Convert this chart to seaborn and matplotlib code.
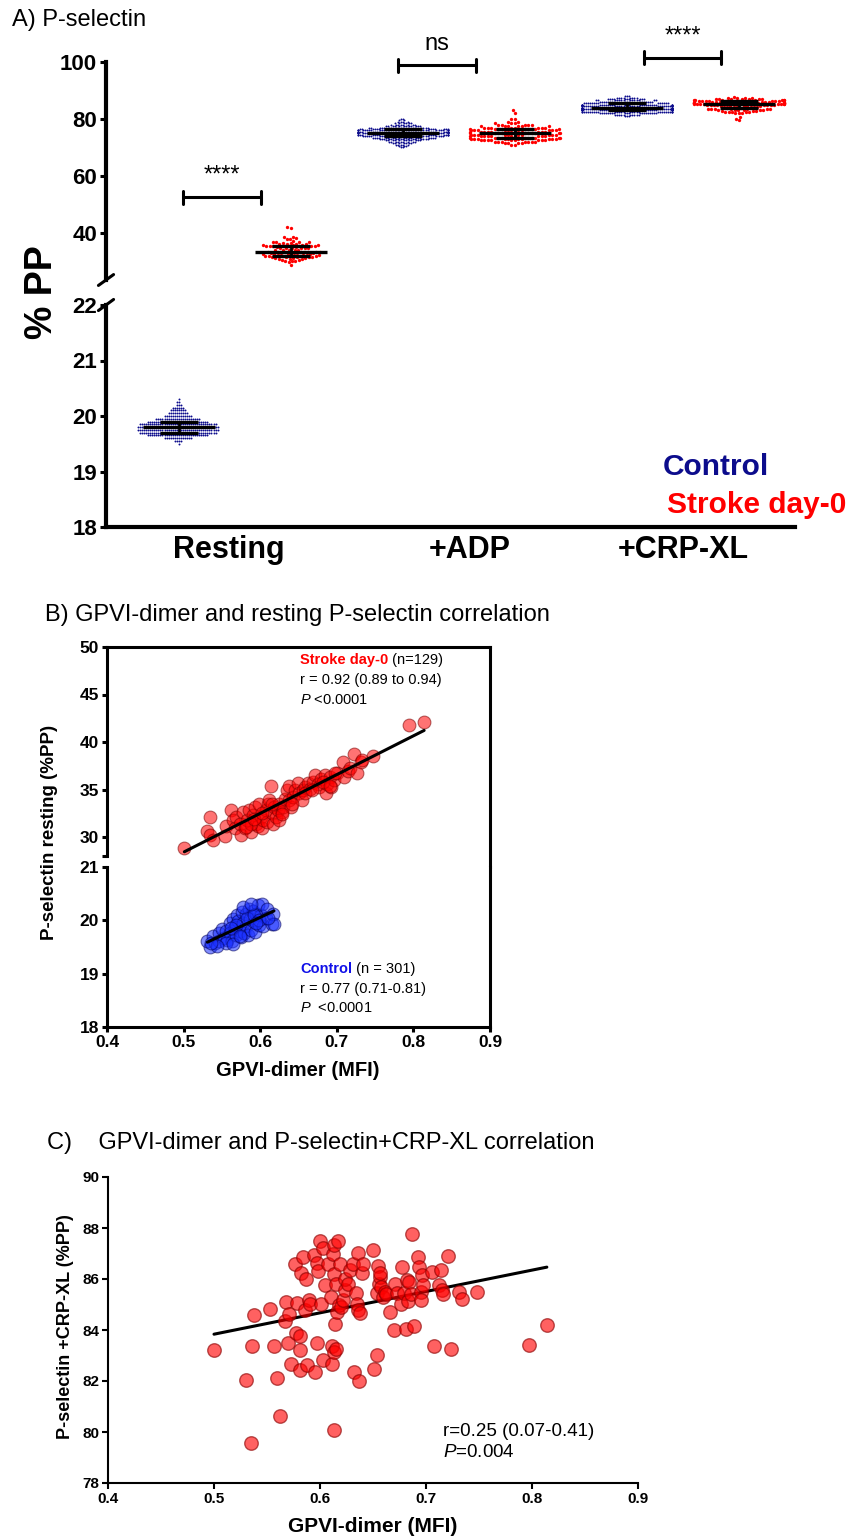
import numpy as np
import pandas as pd
import matplotlib
matplotlib.use("Agg")
import matplotlib.pyplot as plt
import seaborn as sns

W, H = 849, 1538
NAVY = "#0c0c8c"
RED = "#ff0000"

conditions = ["Resting", "+ADP", "+CRP-XL"]
groups = ["Control", "Stroke day-0"]

# ---- panel B: GPVI-dimer vs resting P-selectin ----
b_stroke_x = [0.501, 0.530, 0.535, 0.534, 0.539, 0.554, 0.555, 0.562, 0.564, 0.567,
              0.569, 0.573, 0.575, 0.577, 0.580, 0.583, 0.585, 0.588, 0.590, 0.593,
              0.595, 0.597, 0.598, 0.601, 0.602, 0.604, 0.607, 0.609, 0.610, 0.612,
              0.614, 0.615, 0.617, 0.618, 0.621, 0.623, 0.625, 0.628, 0.630, 0.632,
              0.635, 0.637, 0.638, 0.640, 0.643, 0.646, 0.649, 0.651, 0.654, 0.656,
              0.658, 0.662, 0.665, 0.669, 0.672, 0.675, 0.677, 0.679, 0.684, 0.686,
              0.687, 0.691, 0.693, 0.696, 0.700, 0.708, 0.710, 0.714, 0.717, 0.723,
              0.726, 0.731, 0.733, 0.747, 0.794, 0.814,
              0.588, 0.582, 0.592, 0.603, 0.616, 0.624, 0.629, 0.642, 0.658, 0.667,
              0.682, 0.698, 0.691]
b_stroke_y = [28.8, 30.6, 32.1, 30.2, 29.7, 30.1, 31.2, 32.8, 31.8, 31.0,
              32.1, 31.4, 30.2, 32.6, 31.0, 31.8, 32.8, 30.5, 32.3, 33.2,
              31.4, 31.2, 33.5, 32.1, 31.0, 31.8, 32.8, 31.6, 33.5, 33.9,
              35.4, 32.5, 31.4, 33.2, 32.1, 32.8, 33.5, 32.6, 33.2, 34.0,
              35.0, 33.9, 35.4, 33.2, 34.2, 34.9, 35.7, 34.6, 33.9, 34.9,
              35.3, 35.7, 35.1, 35.8, 36.5, 35.6, 35.3, 36.1, 36.5, 34.6,
              35.6, 36.3, 35.3, 36.0, 36.7, 37.9, 36.3, 37.0, 37.3, 38.7,
              36.7, 37.9, 38.1, 38.5, 41.8, 42.1,
              31.4, 31.1, 31.9, 32.5, 33.5, 31.8, 32.4, 33.5, 34.6, 34.9,
              35.8, 36.7, 35.4]

b_ctrl_x = [0.534, 0.531, 0.538, 0.541, 0.546, 0.546, 0.550, 0.553, 0.555, 0.557,
            0.560, 0.561, 0.563, 0.564, 0.567, 0.568, 0.570, 0.571, 0.573, 0.575,
            0.576, 0.577, 0.579, 0.581, 0.582, 0.584, 0.585, 0.587, 0.588, 0.590,
            0.592, 0.593, 0.595, 0.597, 0.598, 0.601, 0.602, 0.604, 0.607, 0.609,
            0.615, 0.617, 0.618, 0.556, 0.564, 0.543, 0.569, 0.583, 0.592, 0.578,
            0.588, 0.562, 0.574, 0.599, 0.610, 0.595, 0.536]
b_ctrl_y = [19.50, 19.62, 19.70, 19.58, 19.76, 19.62, 19.84, 19.66, 19.80, 19.64,
            19.95, 19.76, 19.62, 20.02, 19.88, 19.72, 20.10, 19.98, 19.80, 19.68,
            20.15, 19.95, 19.76, 20.12, 19.90, 19.72, 20.22, 20.02, 19.82, 20.18,
            19.96, 19.78, 20.12, 20.28, 19.92, 20.10, 20.30, 19.90, 20.05, 20.22,
            19.94, 20.11, 19.93, 19.57, 19.55, 19.52, 19.92, 20.05, 20.10, 20.25,
            20.30, 19.85, 19.70, 20.00, 20.05, 19.95, 19.57]

# ---- panel C: GPVI-dimer vs P-selectin +CRP-XL (stroke) ----
c_x = [0.500, 0.530, 0.535, 0.536, 0.538, 0.553, 0.557, 0.559, 0.562, 0.568,
       0.567, 0.570, 0.571, 0.573, 0.576, 0.577, 0.578, 0.581, 0.581, 0.581,
       0.582, 0.584, 0.586, 0.587, 0.588, 0.590, 0.591, 0.594, 0.595, 0.597,
       0.597, 0.598, 0.600, 0.601, 0.603, 0.603, 0.605, 0.608, 0.610, 0.611,
       0.611, 0.612, 0.613, 0.613, 0.613, 0.613, 0.614, 0.615, 0.615, 0.616,
       0.617, 0.618, 0.619, 0.620, 0.622, 0.624, 0.624, 0.626, 0.628, 0.631,
       0.632, 0.634, 0.635, 0.636, 0.636, 0.637, 0.638, 0.640, 0.641, 0.650,
       0.651, 0.654, 0.654, 0.655, 0.656, 0.657, 0.657, 0.658, 0.659, 0.661,
       0.662, 0.666, 0.670, 0.671, 0.673, 0.676, 0.677, 0.679, 0.681, 0.682,
       0.683, 0.684, 0.686, 0.687, 0.689, 0.692, 0.693, 0.695, 0.695, 0.696,
       0.697, 0.706, 0.708, 0.712, 0.714, 0.715, 0.716, 0.721, 0.724, 0.731,
       0.734, 0.748, 0.797, 0.814]
c_y = [83.23, 82.05, 79.57, 83.36, 84.58, 84.84, 83.36, 82.13, 80.63, 85.10,
       84.34, 83.49, 84.61, 82.68, 86.60, 83.89, 85.07, 83.75, 82.44, 83.23,
       86.24, 86.86, 84.77, 86.01, 82.61, 85.19, 85.03, 86.93, 82.35, 83.49,
       86.63, 86.30, 87.49, 85.03, 82.84, 87.23, 85.75, 86.60, 85.29, 83.36,
       82.68, 86.99, 86.21, 83.14, 80.09, 87.32, 84.25, 85.79, 83.27, 84.71,
       87.49, 84.97, 86.60, 84.90, 85.16, 85.56, 86.01, 85.82, 86.34, 86.60,
       82.35, 85.45, 85.03, 87.02, 84.77, 81.99, 84.67, 86.24, 86.60, 87.15,
       82.48, 83.01, 85.45, 86.50, 85.82, 86.08, 86.24, 85.69, 85.29, 85.49,
       85.42, 84.71, 84.01, 85.82, 85.45, 85.03, 86.47, 85.45, 84.05, 85.95,
       85.14, 85.88, 85.40, 87.75, 84.14, 86.86, 86.47, 85.49, 85.19, 86.14,
       85.75, 86.27, 83.36, 85.75, 86.34, 85.56, 85.42, 86.89, 83.27, 85.49,
       85.23, 85.49, 83.40, 84.18]

# ---- panel A: remaining groups read as (level, count) bins ----
ctrl_rest_levels = [19.50, 19.55, 19.60, 19.65, 19.70, 19.75, 19.80, 19.85, 19.90,
                    19.95, 20.00, 20.05, 20.10, 20.15, 20.20, 20.25, 20.30]
ctrl_rest_counts = [1, 4, 14, 30, 38, 40, 40, 38, 30, 22, 14, 10, 8, 6, 3, 2, 1]

ctrl_adp_levels = [70, 70.5, 71, 71.5, 72, 72.5, 73, 73.5, 74, 74.5, 75, 75.5, 76,
                   76.5, 77, 77.5, 78, 78.5, 79, 79.5, 80]
ctrl_adp_counts = [2, 3, 5, 7, 9, 12, 16, 20, 25, 29, 32, 33, 31, 25, 18, 12, 8, 6, 4, 2, 2]

stroke_adp_levels = [71, 71.5, 72, 72.5, 73, 73.5, 74, 74.5, 75, 75.5, 76, 76.5, 77,
                     77.5, 78, 78.5, 79, 80, 82, 83]
stroke_adp_counts = [2, 4, 7, 9, 10, 10, 10, 10, 10, 10, 10, 9, 8, 6, 5, 3, 2, 2, 1, 1]

ctrl_crp_levels = [81, 81.5, 82, 82.5, 83, 83.5, 84, 84.5, 85, 85.5, 86, 86.5, 87, 87.5, 88]
ctrl_crp_counts = [3, 10, 20, 30, 33, 33, 33, 32, 30, 24, 18, 14, 10, 8, 3]

# significance brackets: (x start, x end, y, label)
sig_brackets = [(0.04, 0.73, 52.5, "****"), (1.96, 2.65, 98.8, "ns"), (4.15, 4.84, 101.5, "****")]


def expand(levels, counts):
    return np.repeat(levels, counts)


a_values = {
    ("Resting", "Control"): expand(ctrl_rest_levels, ctrl_rest_counts),
    ("Resting", "Stroke day-0"): np.array(b_stroke_y),
    ("+ADP", "Control"): expand(ctrl_adp_levels, ctrl_adp_counts),
    ("+ADP", "Stroke day-0"): expand(stroke_adp_levels, stroke_adp_counts),
    ("+CRP-XL", "Control"): expand(ctrl_crp_levels, ctrl_crp_counts),
    ("+CRP-XL", "Stroke day-0"): np.array(c_y),
}
df_a = pd.concat([pd.DataFrame({"group": g, "slot": f"{c} {g}", "value": v})
                  for (c, g), v in a_values.items()], ignore_index=True)
slot_order = [f"{c} {g}" for c in conditions for g in groups]

# median and interquartile range per group
stats = df_a.groupby("slot")["value"].quantile([0.25, 0.5, 0.75]).unstack().reindex(slot_order)

sns.set_style("ticks")
plt.rcParams["font.family"] = ["Liberation Sans", "DejaVu Sans"]
plt.rcParams["mathtext.fontset"] = "custom"
plt.rcParams["mathtext.rm"] = "Liberation Sans"
plt.rcParams["mathtext.it"] = "Liberation Sans:italic"
for key in ["text.color", "axes.labelcolor", "xtick.color", "ytick.color", "axes.edgecolor"]:
    plt.rcParams[key] = "black"

fig = plt.figure(figsize=(W / 100, H / 100), dpi=100)


def px_axes(left, top, right, bottom):
    """Axes placed from pixel edges of the target picture."""
    return fig.add_axes([left / W, 1 - bottom / H, (right - left) / W, (bottom - top) / H])


def fig_text(x, y, s, **kw):
    return fig.text(x / W, 1 - y / H, s, **kw)


def bold_ticks(ax):
    plt.setp(ax.get_xticklabels() + ax.get_yticklabels(), fontweight="bold")


# ================= panel A =================
axA_top = px_axes(106, 62, 795, 280)
axA_bot = px_axes(106, 305, 795, 527)
colors = {"Control": NAVY, "Stroke day-0": RED}
dot_size = {"Control": 1.4, "Stroke day-0": 2.4}
pos = np.arange(len(slot_order))

for ax, (lo, hi) in [(axA_top, (23.5, 100)), (axA_bot, (18, 22))]:
    sub = df_a[df_a["value"].between(lo, hi)]
    for g in groups:
        part = sub[sub["group"] == g]
        if len(part):
            sns.swarmplot(data=part, x="slot", y="value", order=slot_order, color=colors[g],
                          size=dot_size[g], linewidth=0, warn_thresh=1, ax=ax)
    ax.errorbar(pos, stats[0.5], yerr=[stats[0.5] - stats[0.25], stats[0.75] - stats[0.5]],
                fmt="_", color="black", markersize=52, markeredgewidth=2.4,
                elinewidth=2.0, capsize=14, capthick=2.0, zorder=5)
    ax.set_ylim(lo, hi)
    ax.set_xlim(-0.65, 5.5)
    ax.set_xlabel("")
    ax.set_ylabel("")
    for s in ["top", "right"]:
        ax.spines[s].set_visible(False)
    ax.spines["left"].set_linewidth(3)
    ax.tick_params(axis="y", length=4.5, width=2.2, labelsize=16, pad=2)

axA_top.spines["bottom"].set_visible(False)
axA_top.tick_params(axis="x", bottom=False, labelbottom=False)
axA_top.set_yticks([40, 60, 80, 100])
axA_bot.set_yticks([18, 19, 20, 21, 22])
axA_bot.spines["bottom"].set_linewidth(3)
axA_bot.set_xticks([0.45, 2.6, 4.5], conditions)
axA_bot.tick_params(axis="x", length=0, labelsize=22, pad=6)
bold_ticks(axA_top)
bold_ticks(axA_bot)

# axis-break slashes
for ax, yc, dy in [(axA_top, 0.0, 0.025), (axA_bot, 1.0, 0.025)]:
    ax.plot([-0.011, 0.011], [yc - dy, yc + dy], transform=ax.transAxes,
            color="black", lw=2.2, clip_on=False)

for x0, x1, y, label in sig_brackets:
    axA_top.plot([x0, x1], [y, y], color="black", lw=2.2, clip_on=False)
    for xe in (x0, x1):
        axA_top.plot([xe, xe], [y - 2.3, y + 2.3], color="black", lw=2.2, clip_on=False)
    axA_top.text((x0 + x1) / 2, y + 7.5, label, ha="center", va="center", fontsize=17)

fig_text(12, 20, "A) P-selectin", fontsize=17, va="center")
fig_text(42, 292, "% PP", rotation=90, fontsize=27, fontweight="bold", ha="center", va="center")
fig_text(663, 467, "Control", color=NAVY, fontsize=21.5, fontweight="bold", va="center")
fig_text(667, 505, "Stroke day-0", color=RED, fontsize=21.5, fontweight="bold", va="center")

# ================= panel B =================
axB_top = px_axes(107, 647, 490, 856)
axB_bot = px_axes(107, 867, 490, 1027)

sns.scatterplot(x=b_stroke_x, y=b_stroke_y, ax=axB_top, color=RED, alpha=0.55, s=85,
                edgecolor="#7a0000", linewidth=0.8, zorder=2)
sns.regplot(x=b_stroke_x, y=b_stroke_y, ax=axB_top, scatter=False, ci=None, color="black",
            line_kws={"linewidth": 2.2, "zorder": 3})
sns.scatterplot(x=b_ctrl_x, y=b_ctrl_y, ax=axB_bot, color="#1a30ff", alpha=0.55, s=85,
                edgecolor="#00005a", linewidth=0.8, zorder=2)
sns.regplot(x=b_ctrl_x, y=b_ctrl_y, ax=axB_bot, scatter=False, ci=None, color="black",
            line_kws={"linewidth": 2.2, "zorder": 3})

for ax in (axB_top, axB_bot):
    ax.set_xlim(0.4, 0.9)
    for s in ax.spines.values():
        s.set_linewidth(2.2)
    ax.tick_params(length=3.6, width=2.2, labelsize=12.5, pad=2)

axB_top.set_ylim(28, 50)
axB_top.set_yticks([30, 35, 40, 45, 50])
axB_top.set_yticks([28], minor=True)
axB_top.tick_params(axis="y", which="minor", length=3.6, width=2.2)
axB_top.spines["bottom"].set_visible(False)
axB_top.spines["right"].set_bounds(26.8, 50)
axB_top.tick_params(axis="x", bottom=False, labelbottom=False)
axB_bot.set_ylim(18, 21)
axB_bot.set_yticks([18, 19, 20, 21])
axB_bot.set_xticks([0.4, 0.5, 0.6, 0.7, 0.8, 0.9])
axB_bot.spines["top"].set_visible(False)
bold_ticks(axB_top)
bold_ticks(axB_bot)

t = axB_top.text(0.652, 48.6, "Stroke day-0", color=RED, fontsize=10.5, fontweight="bold", va="center")
axB_top.annotate(" (n=129)", xy=(1, 0.5), xycoords=t, va="center", fontsize=10.5)
axB_top.text(0.652, 46.5, "r = 0.92 (0.89 to 0.94)", fontsize=10.5, va="center")
axB_top.text(0.652, 44.4, r"$\mathit{P}$ <0.0001", fontsize=10.5, va="center")
t = axB_bot.text(0.652, 19.09, "Control", color="#1010e8", fontsize=10.5, fontweight="bold", va="center")
axB_bot.annotate(" (n = 301)", xy=(1, 0.5), xycoords=t, va="center", fontsize=10.5)
axB_bot.text(0.652, 18.72, "r = 0.77 (0.71-0.81)", fontsize=10.5, va="center")
axB_bot.text(0.652, 18.35, r"$\mathit{P}$  <0.0001", fontsize=10.5, va="center")

fig_text(45, 615, "B) GPVI-dimer and resting P-selectin correlation", fontsize=17, va="center")
fig_text(50, 832, "P-selectin resting (%PP)", rotation=90, fontsize=13.5, fontweight="bold",
         ha="center", va="center")
fig_text(298, 1070, "GPVI-dimer (MFI)", fontsize=14.5, fontweight="bold", ha="center", va="center")

# ================= panel C =================
axC = px_axes(108, 1177, 638, 1483)
sns.regplot(x=c_x, y=c_y, ax=axC, scatter=False, ci=None, color="black",
            line_kws={"linewidth": 2.2, "zorder": 1})
sns.scatterplot(x=c_x, y=c_y, ax=axC, color=RED, alpha=0.62, s=95,
                edgecolor="#8b0000", linewidth=1.0, zorder=2)
axC.set_xlim(0.4, 0.9)
axC.set_ylim(78, 90)
axC.set_xticks([0.4, 0.5, 0.6, 0.7, 0.8, 0.9])
axC.set_yticks([78, 80, 82, 84, 86, 88, 90])
sns.despine(ax=axC)
for s in ("left", "bottom"):
    axC.spines[s].set_linewidth(1.5)
axC.tick_params(length=4.3, width=1.5, labelsize=11, pad=2)
bold_ticks(axC)
axC.text(0.716, 80.0, "r=0.25 (0.07-0.41)", fontsize=13.5, va="center")
axC.text(0.716, 79.18, r"$\mathit{P}$=0.004", fontsize=13.5, va="center")

fig_text(47, 1143, "C)    GPVI-dimer and P-selectin+CRP-XL correlation", fontsize=17, va="center")
fig_text(66, 1327, "P-selectin +CRP-XL (%PP)", rotation=90, fontsize=13, fontweight="bold",
         ha="center", va="center")
fig_text(373, 1527, "GPVI-dimer (MFI)", fontsize=15, fontweight="bold", ha="center", va="center")

fig.savefig("out.png", dpi=100)
